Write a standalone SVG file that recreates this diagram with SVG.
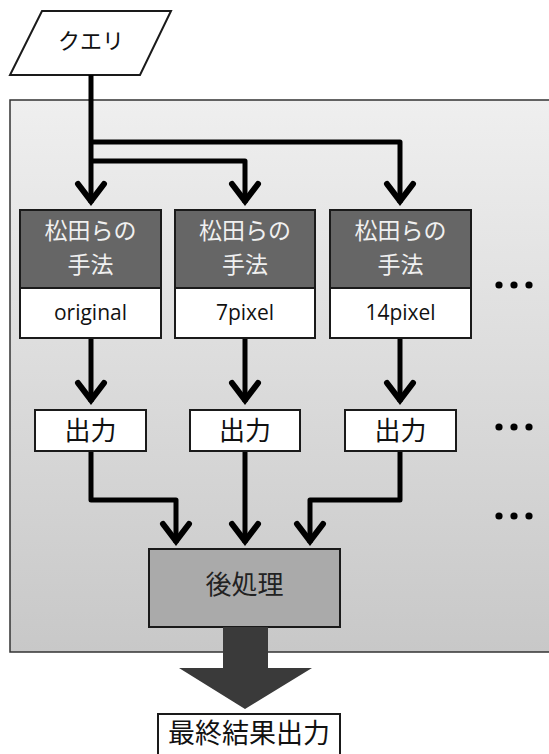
<svg xmlns="http://www.w3.org/2000/svg" width="549" height="754" viewBox="0 0 549 754">
<defs>
<linearGradient id="pg" x1="0" y1="0" x2="0" y2="1">
<stop offset="0" stop-color="#efefef"/>
<stop offset="1" stop-color="#c8c8c8"/>
</linearGradient>
</defs>
<style>
.jp{font-family:"Noto Sans CJK JP","Noto Sans",sans-serif;text-anchor:middle}
.m{font-size:23px;fill:#f0f0f0}
.lat{font-family:"Open Sans","Liberation Sans",sans-serif;text-anchor:middle;fill:#111;font-size:21px}
.box{stroke:#1a1a1a;stroke-width:2}
.ln{fill:none;stroke:#000;stroke-width:5;stroke-linejoin:round}
.ah{fill:none;stroke:#000;stroke-width:6;stroke-linejoin:miter;stroke-miterlimit:10;stroke-linecap:round}
.dot{fill:#000}
</style>
<rect x="10" y="100" width="560" height="552" fill="url(#pg)" stroke="#333" stroke-width="1.5"/>
<g id="query">
<polygon points="42,11 171,11 140,75 10,75" fill="#fff" class="box"/>
<text class="jp" x="91" y="49" font-size="22" fill="#111">クエリ</text>
</g>
<g id="connectors">
<path class="ln" d="M91,75 V203"/>
<path class="ln" d="M91,142 H400 V203"/>
<path class="ln" d="M91,161 H245 V203"/>
<polyline class="ah" points="78,184 91,201 104,184"/>
<polyline class="ah" points="232,184 245,201 258,184"/>
<polyline class="ah" points="387,184 400,201 413,184"/>
<path class="ln" d="M91,338 V402"/>
<path class="ln" d="M245,338 V402"/>
<path class="ln" d="M400,338 V402"/>
<polyline class="ah" points="78,383 91,400 104,383"/>
<polyline class="ah" points="232,383 245,400 258,383"/>
<polyline class="ah" points="387,383 400,400 413,383"/>
<path class="ln" d="M91,451 V500 H176 V543"/>
<path class="ln" d="M245,451 V543"/>
<path class="ln" d="M400,451 V500 H310 V543"/>
<polyline class="ah" points="163,524 176,541 189,524"/>
<polyline class="ah" points="232,524 245,541 258,524"/>
<polyline class="ah" points="297,524 310,541 323,524"/>
</g>
<g id="method1">
<rect x="20" y="210" width="141" height="78" fill="#666" class="box"/>
<rect x="20" y="288" width="141" height="50" fill="#fff" class="box"/>
<text class="jp m" x="90.5" y="239">松田らの</text>
<text class="jp m" x="90.5" y="273">手法</text>
<text class="lat" x="90.5" y="320">original</text>
</g>
<g id="method2">
<rect x="175" y="210" width="140" height="78" fill="#666" class="box"/>
<rect x="175" y="288" width="140" height="50" fill="#fff" class="box"/>
<text class="jp m" x="245" y="239">松田らの</text>
<text class="jp m" x="245" y="273">手法</text>
<text class="lat" x="245" y="320">7pixel</text>
</g>
<g id="method3">
<rect x="330" y="210" width="141" height="78" fill="#666" class="box"/>
<rect x="330" y="288" width="141" height="50" fill="#fff" class="box"/>
<text class="jp m" x="400.5" y="239">松田らの</text>
<text class="jp m" x="400.5" y="273">手法</text>
<text class="lat" x="400.5" y="320">14pixel</text>
</g>
<g id="out1">
<rect x="35" y="410" width="111" height="41" fill="#fff" class="box"/>
<text class="jp" x="90.5" y="440" font-size="26" fill="#111">出力</text>
</g>
<g id="out2">
<rect x="190" y="410" width="110" height="41" fill="#fff" class="box"/>
<text class="jp" x="245" y="440" font-size="26" fill="#111">出力</text>
</g>
<g id="out3">
<rect x="345" y="410" width="111" height="41" fill="#fff" class="box"/>
<text class="jp" x="400.5" y="440" font-size="26" fill="#111">出力</text>
</g>
<g id="dots1"><circle class="dot" cx="499" cy="285" r="3.6"/><circle class="dot" cx="514" cy="285" r="3.6"/><circle class="dot" cx="529" cy="285" r="3.6"/></g>
<g id="dots2"><circle class="dot" cx="499" cy="427" r="3.6"/><circle class="dot" cx="514" cy="427" r="3.6"/><circle class="dot" cx="529" cy="427" r="3.6"/></g>
<g id="dots3"><circle class="dot" cx="499" cy="516" r="3.6"/><circle class="dot" cx="514" cy="516" r="3.6"/><circle class="dot" cx="529" cy="516" r="3.6"/></g>
<g id="postproc">
<rect x="149" y="549" width="191" height="78" fill="#aaa" class="box"/>
<text class="jp" x="244.5" y="594" font-size="26" fill="#222">後処理</text>
</g>
<g id="bigarrow">
<polygon points="223,627 268,627 268,668 312,668 245,709 179,668 223,668" fill="#3a3a3a"/>
</g>
<g id="final">
<rect x="158" y="714" width="182" height="50" fill="#fff" class="box"/>
<text class="jp" x="249" y="743" font-size="27" fill="#111">最終結果出力</text>
</g>
</svg>
